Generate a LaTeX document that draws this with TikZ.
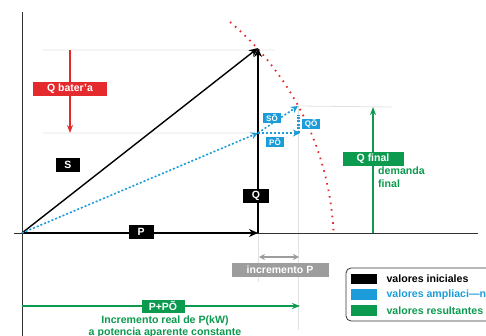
\documentclass[tikz,border=0pt]{standalone}
\usepackage{fontspec}
\setmainfont{Liberation Sans}
\usetikzlibrary{arrows.meta}
\definecolor{rojo}{HTML}{E52A2E}
\definecolor{azul}{HTML}{1C9CD8}
\definecolor{verde}{HTML}{0B9A4E}
\definecolor{gris}{HTML}{9D9D9D}
\definecolor{guia}{HTML}{E2E2E2}
\tikzset{
  tag/.style={fill=#1, text=white, font=\bfseries\fontsize{10.5}{10.5}\selectfont, inner sep=0pt, minimum height=14pt},
  mini/.style={tag=azul, font=\bfseries\fontsize{8}{8}\selectfont, minimum height=10pt, minimum width=18pt},
  guide/.style={guia, line width=0.8pt},
  vec/.style={line width=2pt, -{Stealth[length=9pt,width=8pt]}},
  dots/.style={azul, line width=1.6pt, dash pattern=on 2pt off 2pt, -{Stealth[length=7pt,width=7pt]}},
  txt/.style={font=\bfseries\fontsize{10.6}{12.5}\selectfont},
}

\begin{document}
\begin{tikzpicture}[x=1pt,y=-1pt]
\useasboundingbox (0,0) rectangle (486,336);

\coordinate (O) at (22,233);
\coordinate (S) at (258,48);
\coordinate (P) at (258,233);
\coordinate (S1) at (258,133);
\coordinate (S2) at (298,106);
\coordinate (P2) at (300,133);
\coordinate (Q2) at (298,133);
\coordinate (Q3) at (298,115);
\coordinate (ytop) at (22,12);
\coordinate (ybot) at (22,336);
\coordinate (xl) at (14,233);
\coordinate (xr) at (478,233);

\draw[guide] (43,50) -- (274,50) (43,133) -- (S1) (S2) -- (392,107);
\draw[guide] (P) -- (258,282) (S2) -- (298,330);
\draw[line width=0.8pt, black!80] (ytop) -- (ybot) (xl) -- (xr);

\draw[rojo, line width=1.8pt, dash pattern=on 1.6pt off 5pt] (230,22) arc[start angle=-49.7, end angle=-2.7, radius=294];

\coordinate (r1) at (70,50);
\coordinate (r2) at (70,133);
\draw[rojo, line width=1.5pt, -{Stealth[length=8pt,width=6pt]}] (r1) -- (r2);
\node[tag=rojo, minimum width=74pt] (qbat) at (70,89) {Q bater'a};

\draw[line width=1.4pt, -{Stealth[length=9pt,width=8pt]}] (O) -- (S);
\path[vec] (O) edge (P) (P) edge (S);

\draw[dots] (O) -- (S1);
\draw[dots] (S1) -- (S2);
\draw[dots] (S1) -- (P2);
\draw[azul, line width=3pt, dash pattern=on 2pt off 1.5pt] (Q2) -- (Q3);

\node[tag=black, minimum width=24pt] (s) at (68,165) {S};
\node[tag=black, minimum width=25pt] (p) at (141,232) {P};
\node[tag=black, minimum width=26pt] (q) at (256,196) {Q};
\node[mini] (sp) at (272,118) {SÕ};
\node[mini] (qp) at (311,124) {QÕ};
\node[mini] (pp) at (275,142) {PÕ};

\coordinate (g1) at (373,233);
\coordinate (g2) at (373,107);
\draw[verde, line width=1.5pt, -{Stealth[length=8pt,width=6pt]}] (g1) -- (g2);
\node[tag=verde, minimum width=61pt] (qfin) at (373,159) {Q final};
\node[txt, verde, align=left, anchor=north west, inner sep=1pt] (dem) at (377,166) {demanda\\final};

\coordinate (i1) at (259,257);
\coordinate (i2) at (299,257);
\draw[gris, line width=1.8pt, {Stealth[length=6pt,width=6pt]}-{Stealth[length=6pt,width=6pt]}] (i1) -- (i2);
\node[tag=gris, minimum width=97pt] (inc) at (280,270) {incremento P};

\coordinate (b1) at (22,306);
\coordinate (b2) at (300,306);
\draw[verde, line width=1.8pt, -{Stealth[length=8pt,width=6pt]}] (b1) -- (b2);
\node[tag=verde, minimum width=43pt, minimum height=13pt] (ppp) at (163,306) {P+PÕ};
\node[txt, verde, align=center] (real) at (165,327) {Incremento real de P(kW)\\a potencia aparente constante};

\draw[rounded corners=5pt, line width=0.8pt, black!80] (346,268) rectangle (520,321);
\fill[black] (351,274) rectangle (377,284);
\fill[azul] (351,289) rectangle (377,300);
\fill[verde] (351,305) rectangle (377,316);
\node[txt, anchor=west] (l1) at (383,279) {valores iniciales};
\node[txt, azul, anchor=west] (l2) at (383,294.5) {valores ampliaci—n};
\node[txt, verde, anchor=west] (l3) at (383,310.5) {valores resultantes};
\end{tikzpicture}
\end{document}
